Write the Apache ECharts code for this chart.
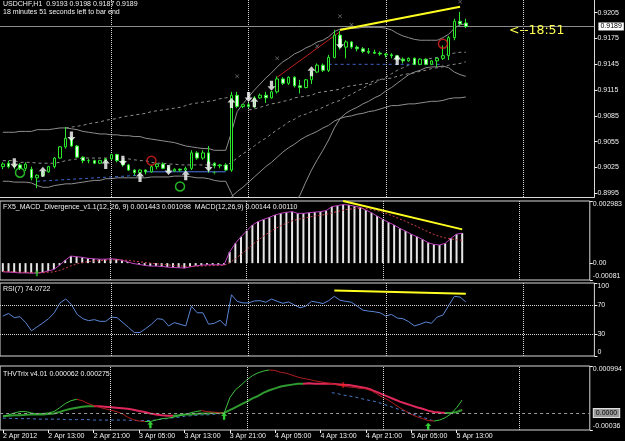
<!DOCTYPE html>
<html><head><meta charset="utf-8">
<script src="https://cdn.jsdelivr.net/npm/echarts@6/dist/echarts.min.js"></script>
<style>html,body{margin:0;padding:0;background:#000;}#c{width:625px;height:441px;}</style>
</head><body><div id="c"></div>
<script>
// ---------- categories / ticks ----------
const cats = [];
for (let i = 0; i < 104; i++) {
  const h = 5 + i, d = 2 + Math.floor(h / 24), hh = h % 24;
  cats.push(d + ' Apr ' + (hh < 10 ? '0' : '') + hh + ':00');
}
const timeTickIdx = [0, 8, 16, 24, 32, 40, 48, 56, 64, 72, 80];
const timeTickLabels = ['2 Apr 2012','2 Apr 13:00','2 Apr 21:00','3 Apr 05:00','3 Apr 13:00','3 Apr 21:00','4 Apr 05:00','4 Apr 13:00','4 Apr 21:00','5 Apr 05:00','5 Apr 13:00'];
const gridLineIdx = [19, 43, 67, 91];
const priceTicks = [0.8995, 0.9025, 0.9055, 0.9085, 0.9115, 0.9145, 0.9175, 0.9205];
const macdTicks = [-0.00081, 0, 0.002983];
const macdTickLabels = ['-0.00081', '0.00', '0.002983'];
const rsiTicks = [0, 30, 70, 100];
const thvTicks = [-0.00036, 0.000994];
const thvTickLabels = ['-0.00036', '0.000994'];

// ---------- price bars ----------
const open = [0.9026,0.9030,0.9026,0.9028,0.9024,0.9023,0.9013,0.9016,0.9020,0.9026,
0.9036,0.9049,0.9059,0.9050,0.9037,0.9033,0.9033,0.9030,0.9033,0.9035,
0.9040,0.9033,0.9028,0.9022,0.9019,0.9022,0.9020,0.9026,0.9029,0.9024,
0.9021,0.9023,0.9022,0.9024,0.9042,0.9036,0.9042,0.9030,0.9027,0.9028,
0.9022,0.9109,0.9096,0.9098,0.9096,0.9106,0.9109,0.9106,0.9113,0.9128,
0.9123,0.9130,0.9120,0.9118,0.9127,0.9136,0.9144,0.9138,0.9153,0.9179,
0.9165,0.9171,0.9165,0.9163,0.9160,0.9159,0.9158,0.9157,0.9156,0.9155,
0.9151,0.9149,0.9152,0.9145,0.9151,0.9145,0.9149,0.9152,0.9155,0.9176,
0.9195,0.9193];
const close = [0.9029,0.9026,0.9028,0.9024,0.9029,0.9013,0.9016,0.9020,0.9026,0.9036,
0.9049,0.9059,0.9050,0.9037,0.9033,0.9033,0.9030,0.9033,0.9035,0.9040,
0.9033,0.9028,0.9022,0.9019,0.9022,0.9020,0.9026,0.9029,0.9024,0.9021,
0.9023,0.9022,0.9024,0.9042,0.9036,0.9042,0.9030,0.9027,0.9028,0.9022,
0.9109,0.9096,0.9098,0.9096,0.9106,0.9109,0.9106,0.9113,0.9128,0.9123,
0.9130,0.9120,0.9118,0.9127,0.9136,0.9144,0.9138,0.9153,0.9179,0.9165,
0.9171,0.9165,0.9163,0.9160,0.9159,0.9158,0.9157,0.9156,0.9155,0.9151,
0.9149,0.9152,0.9145,0.9151,0.9145,0.9149,0.9152,0.9155,0.9176,0.9195,
0.9192,0.9189];
const low = [0.9023,0.9024,0.9023,0.9022,0.9021,0.9010,0.9001,0.9014,0.9019,0.9024,
0.9035,0.9047,0.9049,0.9036,0.9030,0.9030,0.9029,0.9029,0.9030,0.9034,
0.9031,0.9026,0.9021,0.9016,0.9015,0.9017,0.9019,0.9023,0.9023,0.9019,
0.9020,0.9020,0.9021,0.9022,0.9034,0.9034,0.9019,0.9024,0.9024,0.9021,
0.9020,0.9094,0.9094,0.9094,0.9094,0.9105,0.9100,0.9105,0.9111,0.9121,
0.9121,0.9118,0.9111,0.9117,0.9122,0.9135,0.9136,0.9136,0.9152,0.9162,
0.9152,0.9163,0.9160,0.9158,0.9157,0.9157,0.9155,0.9153,0.9152,0.9149,
0.9146,0.9148,0.9144,0.9144,0.9144,0.9144,0.9142,0.9150,0.9150,0.9173,
0.9190,0.9187];
const high = [0.9031,0.9033,0.9031,0.9030,0.9031,0.9026,0.9017,0.9022,0.9027,0.9037,
0.9050,0.9072,0.9061,0.9051,0.9038,0.9035,0.9034,0.9034,0.9036,0.9041,
0.9041,0.9034,0.9029,0.9023,0.9023,0.9023,0.9028,0.9030,0.9031,0.9026,
0.9024,0.9024,0.9026,0.9045,0.9044,0.9045,0.9050,0.9031,0.9029,0.9030,
0.9113,0.9113,0.9099,0.9100,0.9108,0.9111,0.9113,0.9114,0.9131,0.9130,
0.9131,0.9131,0.9127,0.9128,0.9138,0.9146,0.9146,0.9156,0.9185,0.9184,
0.9173,0.9172,0.9167,0.9165,0.9164,0.9162,0.9160,0.9158,0.9158,0.9156,
0.9153,0.9153,0.9153,0.9152,0.9152,0.9150,0.9153,0.9167,0.9178,0.9198,
0.9206,0.9198];
const bidPrice = 0.9189;

// ---------- price-pane lines ----------
const bbUpper = [0.9066,0.9066,0.9066,0.9067,0.9067,0.9067,0.9069,0.9069,0.9069,0.9070,
0.9071,0.9071,0.9070,0.9069,0.9067,0.9066,0.9065,0.9064,0.9064,0.9063,
0.9063,0.9062,0.9062,0.9061,0.9061,0.9059,0.9058,0.9057,0.9056,0.9055,
0.9054,0.9052,0.9050,0.9049,0.9048,0.9047,0.9047,0.9045,0.9045,0.9045,
0.9066,0.9090,0.9099,0.9107,0.9115,0.9122,0.9129,0.9135,0.9142,0.9148,
0.9152,0.9157,0.9160,0.9164,0.9167,0.9171,0.9173,0.9177,0.9183,0.9186,
0.9187,0.9187,0.9187,0.9188,0.9188,0.9188,0.9188,0.9187,0.9185,0.9181,
0.9178,0.9176,0.9174,0.9173,0.9173,0.9173,0.9173,0.9176,0.9180,0.9187,
0.9191,0.9192];
const bbMiddle = [0.9033,0.9033,0.9033,0.9031,0.9031,0.9031,0.9030,0.9030,0.9030,0.9030,
0.9031,0.9033,0.9034,0.9035,0.9036,0.9036,0.9036,0.9036,0.9036,0.9036,
0.9036,0.9035,0.9035,0.9034,0.9033,0.9033,0.9031,0.9030,0.9030,0.9029,
0.9029,0.9028,0.9028,0.9028,0.9028,0.9028,0.9028,0.9028,0.9027,0.9027,
0.9031,0.9036,0.9041,0.9045,0.9050,0.9055,0.9059,0.9064,0.9069,0.9073,
0.9078,0.9081,0.9085,0.9087,0.9090,0.9092,0.9095,0.9098,0.9101,0.9103,
0.9107,0.9110,0.9114,0.9117,0.9121,0.9123,0.9127,0.9130,0.9134,0.9138,
0.9141,0.9144,0.9146,0.9149,0.9151,0.9152,0.9153,0.9155,0.9157,0.9158,
0.9159,0.9159];
const bbLower = [0.9009,0.9009,0.9008,0.9008,0.9008,0.9007,0.9004,0.9002,0.9002,0.9004,
0.9005,0.9006,0.9006,0.9007,0.9008,0.9009,0.9010,0.9010,0.9012,0.9012,
0.9013,0.9013,0.9013,0.9013,0.9013,0.9013,0.9014,0.9014,0.9014,0.9014,
0.9015,0.9015,0.9015,0.9014,0.9013,0.9013,0.9012,0.9010,0.9009,0.9009,
0.8995,0.8981,0.8976,0.8973,0.8972,0.8972,0.8973,0.8974,0.8976,0.8978,
0.8980,0.8983,0.8993,0.9008,0.9022,0.9034,0.9045,0.9057,0.9071,0.9082,
0.9088,0.9092,0.9095,0.9099,0.9102,0.9106,0.9109,0.9114,0.9118,0.9123,
0.9128,0.9133,0.9136,0.9138,0.9141,0.9142,0.9142,0.9143,0.9141,0.9136,
0.9133,0.9131];
const envUpperStart = 11;
const envUpper = [0.9071,0.9072,0.9073,0.9074,0.9076,0.9077,0.9078,0.9080,0.9081,0.9082,
0.9084,0.9085,0.9086,0.9087,0.9088,0.9090,0.9091,0.9092,0.9093,0.9094,
0.9095,0.9097,0.9099,0.9100,0.9101,0.9102,0.9103,0.9105,0.9106,0.9107];
const envMidStart = 43;
const envMid = [0.9092,0.9093,0.9095,0.9097,0.9099,0.9100,0.9102,0.9103,0.9106,0.9107,
0.9108,0.9109,0.9112,0.9113,0.9114,0.9115,0.9116,0.9119,0.9120,0.9121,
0.9122,0.9123,0.9126,0.9127,0.9128,0.9129,0.9131,0.9133,0.9134,0.9135,
0.9137,0.9138,0.9140,0.9141,0.9142,0.9144,0.9145,0.9146,0.9148];
const envLowerStart = 40;
const envLower = [0.8991,0.8997,0.9002,0.9008,0.9014,0.9020,0.9026,0.9031,0.9037,0.9043,
0.9048,0.9052,0.9057,0.9061,0.9064,0.9067,0.9071,0.9074,0.9079,0.9082,
0.9084,0.9085,0.9087,0.9088,0.9090,0.9091,0.9093,0.9095,0.9097,0.9097,
0.9098,0.9099,0.9099,0.9100,0.9101,0.9102,0.9102,0.9103,0.9105,0.9106,
0.9106,0.9107];

// markers [barIndex, price]
const sellArrows = [[2,0.9030],[12,0.9061],[21,0.9033],[29,0.9022],[36,0.9026],[43,0.9107],[47,0.9120],[59,0.9169]];
const buyArrows = [[7,0.9020],[18,0.9029],[24,0.9014],[32,0.9016],[40,0.9100],[44,0.9101],[54,0.9137],[69,0.9150]];
const greenCircles = [[3,0.9019],[31,0.9003]];
const redCircles = [[26,0.9033],[77,0.9169]];
const fractals = [[41,0.9131],[48,0.9152],[55,0.9166],[59,0.9201],[61,0.9191],[80,0.9218]];
const greenStars = [[37,0.9019]];
const redTrend = [[48,0.9130],[59,0.9183]];
const yellowPrice = [[59,0.9185],[80,0.9212]];
const blueSupport1 = [[6,0.9009],[24,0.9016]];
const blueSupport2 = [[25,0.9020],[39,0.9020]];
const blueSupport3 = [[57,0.9145],[77,0.9145]];

// ---------- MACD ----------
const macdMain = [-0.00042,-0.00043,-0.00045,-0.00047,-0.00047,-0.00048,-0.00048,-0.00045,-0.00038,-0.00030,
-0.00010,0.00014,0.00034,0.00031,0.00028,0.00023,0.00021,0.00019,0.00019,0.00021,
0.00019,0.00014,0.00006,-0.00002,-0.00006,-0.00011,-0.00014,-0.00014,-0.00016,-0.00019,
-0.00021,-0.00022,-0.00024,-0.00018,-0.00013,-0.00010,-0.00008,-0.00008,-0.00008,-0.00008,
0.00054,0.00095,0.00127,0.00155,0.00183,0.00199,0.00210,0.00220,0.00231,0.00239,
0.00244,0.00247,0.00239,0.00239,0.00242,0.00245,0.00247,0.00252,0.00271,0.00276,
0.00281,0.00279,0.00273,0.00268,0.00255,0.00242,0.00226,0.00210,0.00196,0.00183,
0.00167,0.00154,0.00139,0.00127,0.00114,0.00098,0.00090,0.00087,0.00095,0.00119,
0.00139,0.00144];
const macdSignal = [-0.00040,-0.00041,-0.00042,-0.00043,-0.00044,-0.00045,-0.00046,-0.00046,-0.00044,-0.00042,
-0.00035,-0.00025,-0.00013,-0.00004,0.00003,0.00007,0.00010,0.00012,0.00014,0.00015,
0.00016,0.00015,0.00013,0.00010,0.00007,0.00003,0.00000,-0.00003,-0.00006,-0.00008,
-0.00011,-0.00013,-0.00015,-0.00016,-0.00015,-0.00014,-0.00013,-0.00012,-0.00011,-0.00011,
0.00002,0.00021,0.00042,0.00065,0.00088,0.00110,0.00130,0.00148,0.00165,0.00179,
0.00192,0.00203,0.00210,0.00216,0.00221,0.00226,0.00230,0.00234,0.00241,0.00248,
0.00254,0.00259,0.00262,0.00263,0.00262,0.00258,0.00252,0.00244,0.00234,0.00224,
0.00212,0.00201,0.00188,0.00176,0.00163,0.00150,0.00138,0.00128,0.00121,0.00117,
0.00112,0.00110];
const yellowMacd = [[60,0.00298],[81,0.00162]];
const macdArrows = [[6,-0.00048]];

// ---------- RSI ----------
const rsi = [54.7,58.3,52.5,53.8,45.7,34.5,39.9,45.3,51.1,59.2,
72.7,78.1,70.4,57.0,51.1,48.4,49.8,47.5,47.5,53.4,
52.5,45.7,39.0,32.2,32.2,37.6,43.5,51.1,50.2,41.2,
45.7,43.5,41.2,68.2,59.2,59.2,43.5,44.8,48.9,41.2,
83.9,74.9,72.7,72.7,75.4,75.8,73.6,78.1,74.9,72.2,
74.0,70.0,66.0,68.2,74.9,73.6,71.8,75.8,81.7,76.3,
74.9,73.6,68.2,62.8,61.5,60.6,59.2,54.7,57.0,52.0,
51.1,47.1,41.2,43.5,46.6,44.8,53.4,56.1,69.1,81.7,
80.8,74.1];
const yellowRsi = [[58,89.7],[81,85.3]];

// ---------- THV Trix ----------
const thvSlow = [-0.00007,-0.00006,-0.00005,-0.00005,-0.00004,-0.00003,-0.00003,-0.00003,-0.00002,-0.00001,
0.00002,0.00006,0.00009,0.00011,0.00013,0.00014,0.00014,0.00014,0.00013,0.00012,
0.00011,0.00010,0.00009,0.00007,0.00004,0.00002,-0.00001,-0.00003,-0.00005,-0.00006,
-0.00006,-0.00005,-0.00003,-0.00003,-0.00002,-0.00001,-0.00001,0.00000,0.00000,0.00000,
0.00006,0.00012,0.00018,0.00024,0.00031,0.00036,0.00043,0.00048,0.00052,0.00056,
0.00058,0.00060,0.00062,0.00062,0.00063,0.00062,0.00062,0.00062,0.00062,0.00061,
0.00060,0.00059,0.00057,0.00055,0.00053,0.00049,0.00044,0.00039,0.00034,0.00029,
0.00024,0.00020,0.00016,0.00012,0.00009,0.00005,0.00002,0.00001,0.00000,0.00000,
0.00002,0.000062];
const thvFast = [-0.00007,-0.00004,0.00000,0.00003,0.00003,0.00000,-0.00002,-0.00001,0.00000,0.00003,
0.00011,0.00020,0.00026,0.00029,0.00026,0.00020,0.00016,0.00012,0.00009,0.00006,
0.00003,-0.00001,-0.00009,-0.00014,-0.00017,-0.00018,-0.00018,-0.00015,-0.00012,-0.00011,
-0.00009,-0.00006,-0.00004,0.00000,0.00003,0.00005,0.00003,0.00002,0.00001,-0.00001,
0.00032,0.00049,0.00059,0.00070,0.00079,0.00085,0.00089,0.00091,0.00090,0.00086,
0.00084,0.00080,0.00076,0.00073,0.00071,0.00068,0.00066,0.00064,0.00062,0.00059,
0.00057,0.00055,0.00054,0.00052,0.00051,0.00047,0.00040,0.00033,0.00027,0.00019,
0.00011,0.00004,-0.00003,-0.00008,-0.00012,-0.00016,-0.00017,-0.00015,-0.00010,-0.00002,
0.00011,0.000275];
const thvSignalA = [-0.00011,-0.00011,-0.00012,-0.00012,-0.00012,-0.00012,-0.00013,-0.00013,-0.00013,-0.00013,
-0.00013,-0.00014,-0.00014,-0.00014,-0.00014,-0.00014,-0.00015,-0.00015,-0.00015,-0.00015,
-0.00015,-0.00015,-0.00015,-0.00016,-0.00016,-0.00016,-0.00016,-0.00015,-0.00013,-0.00012,
-0.00010,-0.00009,-0.00007,-0.00006,-0.00005,-0.00004,-0.00004,-0.00003,-0.00002,0.00000];
const thvSignalBStart = 58;
const thvSignalB = [0.00043,0.00041,0.00038,0.00036,0.00034,0.00031,0.00028,0.00026,0.00023,0.00019,
0.00015,0.00011,0.00007,0.00003,-0.00001,-0.00005,-0.00009,-0.00013,-0.00017];
const thvUpArrows = [[26,-0.00025],[39,-0.00007],[75,-0.00028]];
const thvRedMarks = [[60,0.00059]];
// colour segments by bar index ranges
const thvSlowUp = [[0,16],[30,53],[78,81]];
const thvFastUp = [[0,13],[25,35],[39,47],[76,81]];

// ---------- helpers ----------
const pad = (n, arr) => Array(n).fill(null).concat(arr);
const ohlc = open.map((o, i) => [o, close[i], low[i], high[i]]);
const FONT = 'Liberation Sans';
const FS = 7;
const TXT = '#f0f0f0';
const BORDER = '#d8d8d8';
const LEFT = -3.877, RIGHT = 30.6;

const vLines = gridLineIdx.map(i => ({xAxis: cats[i]}));
const vLineStyle = {type: 'dotted', color: '#d8d8d8', width: 1};

function piecesFrom(upRanges, upColor, downColor) {
  const p = [];
  upRanges.forEach(r => p.push({gte: r[0], lte: r[1], color: upColor}));
  return {pieces: p, outOfRange: {color: downColor}};
}

const upArrowPath = 'path://M5,0 L10,5 L7,5 L7,11 L3,11 L3,5 L0,5 Z';
const downArrowPath = 'path://M3,0 L7,0 L7,6 L10,6 L5,11 L0,6 L3,6 Z';
const starPath = 'path://M5,0 L6,4 L10,5 L6,6 L5,10 L4,6 L0,5 L4,4 Z';
const xPath = 'path://M0,1 L1,0 L5,4 L9,0 L10,1 L6,5 L10,9 L9,10 L5,6 L1,10 L0,9 L4,5 Z';
const plusPath = 'path://M4,0 L6,0 L6,4 L10,4 L10,6 L6,6 L6,10 L4,10 L4,6 L0,6 L0,4 L4,4 Z';

const series = [];
const add = s => { series.push(Object.assign({animation: false, silent: true}, s)); return series.length - 1; };
const lineS = (gi, data, color, type, width, z, extra) => add(Object.assign({
  type: 'line', xAxisIndex: gi, yAxisIndex: gi, data: data, symbol: 'none', showSymbol: false,
  connectNulls: false, lineStyle: {color: color, width: width || 1, type: type || 'solid'}, z: z || 2
}, extra || {}));

// price pane
add({type: 'candlestick', xAxisIndex: 0, yAxisIndex: 0, data: ohlc, barWidth: 3, z: 5,
  itemStyle: {color: '#000000', color0: '#ecffec', borderColor: '#2ae82a', borderColor0: '#2ae82a', borderWidth: 1}
});
lineS(0, bbUpper, '#8e8e8e', 'solid', 1, 2, {
  markLine: {silent: true, symbol: 'none', animation: false, precision: 6,
    data: vLines.map(v => Object.assign({lineStyle: vLineStyle, label: {show: false}}, v)).concat([
      {yAxis: bidPrice, lineStyle: {type: 'solid', color: '#8c8c8c', width: 1},
       label: {show: true, position: 'end', distance: 4, formatter: bidPrice.toFixed(4),
         backgroundColor: '#ffffff', color: '#000', fontSize: FS, fontFamily: FONT, padding: [1, 2, 0, 2]}}
    ])}
});
lineS(0, bbMiddle, '#8e8e8e', [3, 3]);
lineS(0, bbLower, '#8e8e8e', 'solid');
lineS(0, pad(envUpperStart, envUpper), '#8e8e8e', [3, 3]);
lineS(0, pad(envMidStart, envMid), '#8e8e8e', [3, 3]);
lineS(0, pad(envLowerStart, envLower), '#8e8e8e', 'solid');
lineS(0, blueSupport1, '#3c64c8', [3, 3]);
lineS(0, blueSupport2, '#4c78e0', 'solid');
lineS(0, blueSupport3, '#3c64c8', [3, 3]);
lineS(0, redTrend, '#c02020', 'solid', 1, 3);
lineS(0, yellowPrice, '#ffff20', 'solid', 2, 6);
add({type: 'scatter', xAxisIndex: 0, yAxisIndex: 0, data: sellArrows, symbol: downArrowPath, symbolSize: [8, 10], itemStyle: {color: '#ffffff'}, z: 8});
add({type: 'scatter', xAxisIndex: 0, yAxisIndex: 0, data: buyArrows, symbol: upArrowPath, symbolSize: [8, 10], itemStyle: {color: '#ffffff'}, z: 8});
add({type: 'scatter', xAxisIndex: 0, yAxisIndex: 0, data: greenCircles, symbol: 'circle', symbolSize: 9, itemStyle: {color: 'rgba(0,0,0,0)', borderColor: '#30e030', borderWidth: 1.5}, z: 8});
add({type: 'scatter', xAxisIndex: 0, yAxisIndex: 0, data: redCircles, symbol: 'circle', symbolSize: 9, itemStyle: {color: 'rgba(0,0,0,0)', borderColor: '#e02020', borderWidth: 1.5}, z: 8});
add({type: 'scatter', xAxisIndex: 0, yAxisIndex: 0, data: fractals, symbol: xPath, symbolSize: 4, itemStyle: {color: '#9a9a9a'}, z: 7});
add({type: 'scatter', xAxisIndex: 0, yAxisIndex: 0, data: greenStars, symbol: starPath, symbolSize: 5, itemStyle: {color: '#30e030'}, z: 7});

// MACD pane
add({type: 'bar', xAxisIndex: 1, yAxisIndex: 1, data: macdMain, barWidth: 2, itemStyle: {color: '#e6e6e6'}, z: 2,
  markLine: {silent: true, symbol: 'none', animation: false, label: {show: false}, lineStyle: vLineStyle, data: vLines}});
lineS(1, macdMain, '#c040c0', 'solid', 1, 3);
lineS(1, macdSignal, '#d04050', [2, 2], 1, 3);
lineS(1, yellowMacd, '#ffff20', 'solid', 2, 6);
add({type: 'scatter', xAxisIndex: 1, yAxisIndex: 1, data: macdArrows, symbol: upArrowPath, symbolSize: [5, 6], itemStyle: {color: '#30c030'}, z: 7});

// RSI pane
add({type: 'line', xAxisIndex: 2, yAxisIndex: 2, data: rsi, symbol: 'none', lineStyle: {color: '#5a86d6', width: 1}, z: 3,
  markLine: {silent: true, symbol: 'none', animation: false, label: {show: false}, lineStyle: vLineStyle,
    data: vLines.concat([{yAxis: 70}, {yAxis: 30}])}});
lineS(2, yellowRsi, '#ffff20', 'solid', 2, 6);

// THV pane
const slowIdx = add({type: 'line', xAxisIndex: 3, yAxisIndex: 3, data: thvSlow, symbol: 'none', lineStyle: {width: 2}, z: 3,
  markLine: {silent: true, symbol: 'none', animation: false, precision: 6, label: {show: false}, lineStyle: vLineStyle,
    data: vLines.concat([{yAxis: 0, lineStyle: {type: [3, 3], color: '#9a9a9a', width: 1},
      label: {show: true, position: 'end', distance: 4, formatter: '0.0000', backgroundColor: '#9a9a9a', color: '#000',
        borderColor: '#e0e0e0', borderWidth: 1, fontSize: FS, fontFamily: FONT, padding: [1, 2, 0, 2]}}])}});
const fastIdx = add({type: 'line', xAxisIndex: 3, yAxisIndex: 3, data: thvFast, symbol: 'none', lineStyle: {width: 1}, z: 4});
lineS(3, thvSignalA, '#4a78c8', [3, 3], 1, 2);
lineS(3, pad(thvSignalBStart, thvSignalB), '#4a78c8', [3, 3], 1, 2);
add({type: 'scatter', xAxisIndex: 3, yAxisIndex: 3, data: thvUpArrows, symbol: upArrowPath, symbolSize: [6, 7], itemStyle: {color: '#40ff40'}, z: 7});
add({type: 'scatter', xAxisIndex: 3, yAxisIndex: 3, data: thvRedMarks, symbol: plusPath, symbolSize: 6, itemStyle: {color: '#ff2020'}, z: 7});

const slowVM = piecesFrom(thvSlowUp, '#2f9a2f', '#e0285c');
const fastVM = piecesFrom(thvFastUp, '#3cc03c', '#b01c1c');

const tops = [0, 201, 283, 366];
const heights = [197, 79, 73, 64];
const grids = tops.map((t, i) => ({left: LEFT, right: RIGHT, top: t, height: heights[i],
  show: i > 0, borderColor: BORDER, borderWidth: 1, backgroundColor: 'transparent'}));

const xAxes = [0, 1, 2, 3].map(i => ({
  type: 'category', gridIndex: i, data: cats, boundaryGap: true,
  axisLine: {show: i === 0, onZero: false, lineStyle: {color: BORDER}},
  axisTick: i === 3 ? {show: true, alignWithLabel: true, length: 3, lineStyle: {color: TXT},
    interval: idx => timeTickIdx.indexOf(idx) >= 0} : {show: false},
  axisLabel: i === 3 ? {show: true, color: TXT, fontSize: FS, fontFamily: FONT, align: 'left', margin: 3,
    interval: idx => timeTickIdx.indexOf(idx) >= 0,
    formatter: (v, idx) => { const k = timeTickIdx.indexOf(idx); return k >= 0 ? timeTickLabels[k] : ''; }} : {show: false},
  splitLine: {show: false}
}));

const yCommon = {type: 'value', position: 'right', splitLine: {show: false}};
const yAxes = [
  Object.assign({}, yCommon, {gridIndex: 0, min: 0.89907, max: 0.92198,
    axisLine: {show: true, lineStyle: {color: BORDER}},
    axisTick: {show: true, length: 3, lineStyle: {color: TXT}, customValues: priceTicks},
    axisLabel: {color: TXT, fontSize: FS, fontFamily: FONT, margin: 3, customValues: priceTicks, formatter: v => v.toFixed(4)}}),
  Object.assign({}, yCommon, {gridIndex: 1, min: -0.00081, max: 0.002983,
    axisLine: {show: false},
    axisTick: {show: true, length: 3, lineStyle: {color: TXT}, customValues: macdTicks},
    axisLabel: {color: TXT, fontSize: FS, fontFamily: FONT, margin: 3, customValues: macdTicks,
      verticalAlignMinLabel: 'bottom', verticalAlignMaxLabel: 'top',
      formatter: v => { const k = macdTicks.indexOf(v); return k >= 0 ? macdTickLabels[k] : ''; }}}),
  Object.assign({}, yCommon, {gridIndex: 2, min: 0, max: 100,
    axisLine: {show: false},
    axisTick: {show: true, length: 3, lineStyle: {color: TXT}, customValues: rsiTicks},
    axisLabel: {color: TXT, fontSize: FS, fontFamily: FONT, margin: 3, customValues: rsiTicks,
      verticalAlignMinLabel: 'bottom', verticalAlignMaxLabel: 'top'}}),
  Object.assign({}, yCommon, {gridIndex: 3, min: -0.00036, max: 0.000994,
    axisLine: {show: false},
    axisTick: {show: true, length: 3, lineStyle: {color: TXT}, customValues: thvTicks},
    axisLabel: {color: TXT, fontSize: FS, fontFamily: FONT, margin: 3, customValues: thvTicks,
      verticalAlignMinLabel: 'bottom', verticalAlignMaxLabel: 'top',
      formatter: v => { const k = thvTicks.indexOf(v); return k >= 0 ? thvTickLabels[k] : ''; }}})
];

const txt = (x, y, s, extra) => ({type: 'text', x: x, y: y, silent: true, z: 100,
  style: Object.assign({text: s, fill: TXT, fontSize: FS, fontFamily: FONT, verticalAlign: 'middle'}, extra || {})});

const option = {
  backgroundColor: '#000000',
  animation: false,
  grid: grids,
  xAxis: xAxes,
  yAxis: yAxes,
  visualMap: [
    Object.assign({type: 'piecewise', show: false, dimension: 0, seriesIndex: slowIdx}, slowVM),
    Object.assign({type: 'piecewise', show: false, dimension: 0, seriesIndex: fastIdx}, fastVM)
  ],
  graphic: [
    txt(3, 4.5, 'USDCHF,H1  0.9193 0.9198 0.9187 0.9189'),
    txt(3, 12, '18 minutes 51 seconds left to bar end'),
    txt(509, 31, '<--18:51', {fill: '#ffff50', fontSize: 12.5, fontFamily: 'DejaVu Sans'}),
    txt(3, 207.5, 'FX5_MACD_Divergence_v1.1(12, 26, 9) 0.001443 0.001098  MACD(12,26,9) 0.00144 0.00110'),
    txt(3, 289.5, 'RSI(7) 74.0722'),
    txt(3, 374, 'THVTrix v4.01 0.000062 0.000275')
  ],
  series: series
};

const chart = echarts.init(document.getElementById('c'), null, {renderer: 'canvas'});
chart.setOption(option);
</script></body></html>
